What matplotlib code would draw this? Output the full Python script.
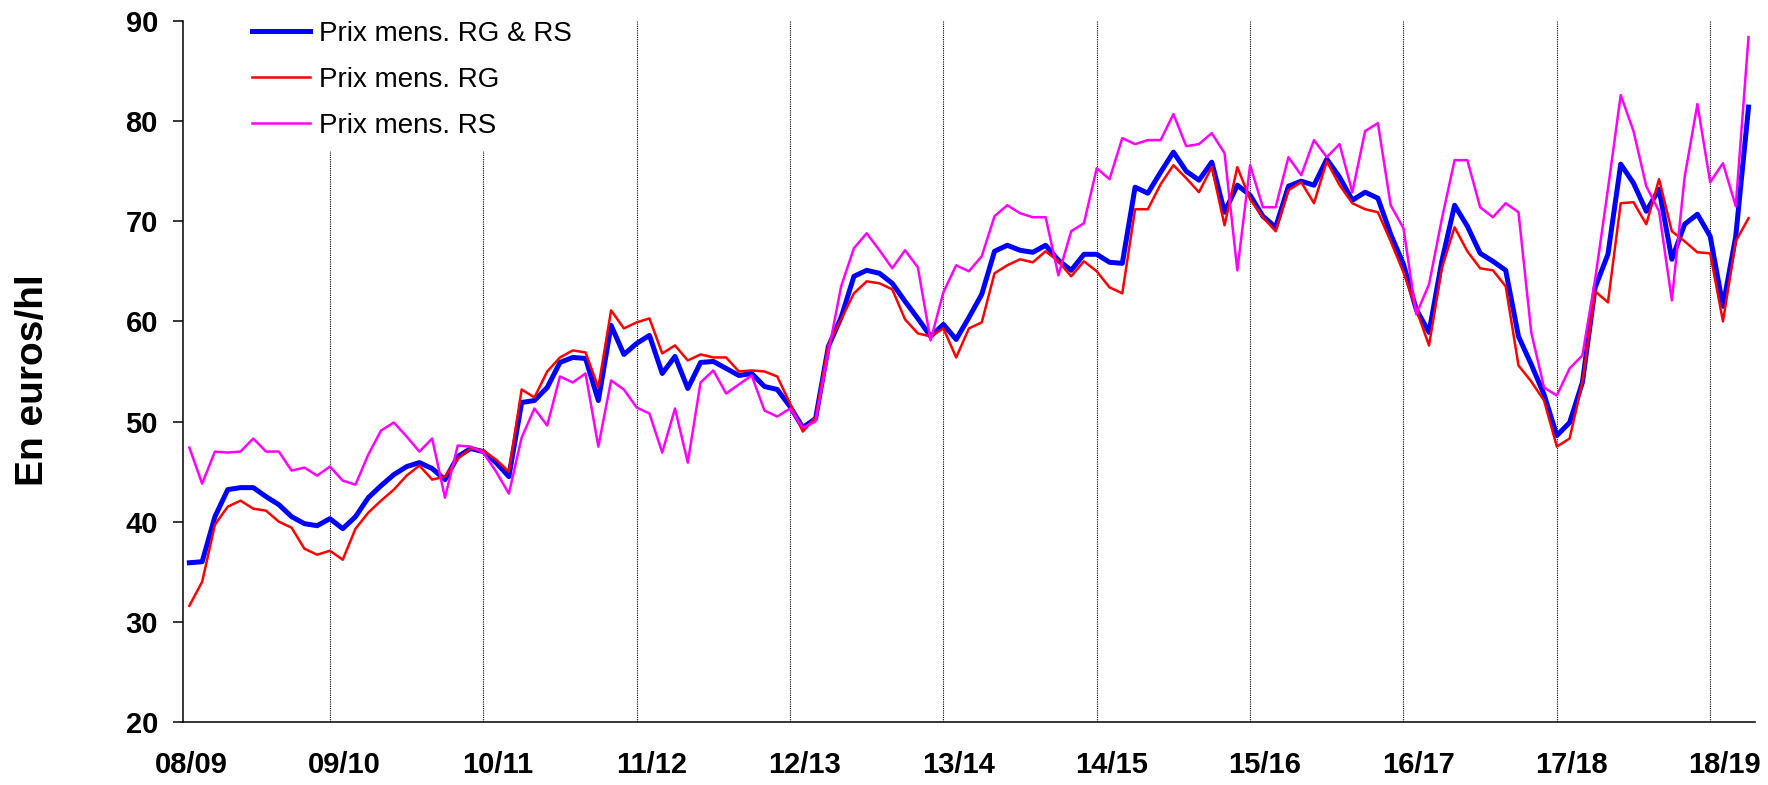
import numpy as np
import matplotlib
matplotlib.use("Agg")
from matplotlib import pyplot as plt

plt.rcParams['font.family'] = ['Liberation Sans', 'DejaVu Sans']

# monthly prices, euros/hl, one value per month from the start of 08/09
rg_rs = [35.9, 36.0, 40.5, 43.2, 43.4, 43.4, 42.5, 41.7, 40.5, 39.8, 39.6, 40.3,
         39.3, 40.5, 42.4, 43.6, 44.7, 45.5, 45.9, 45.3, 44.2, 46.5, 47.3, 47.0,
         45.9, 44.5, 51.9, 52.1, 53.4, 55.9, 56.4, 56.3, 52.1, 59.6, 56.7, 57.8,
         58.6, 54.8, 56.5, 53.3, 55.9, 56.0, 55.3, 54.6, 54.8, 53.5, 53.2, 51.5,
         49.4, 50.3, 57.5, 60.4, 64.5, 65.1, 64.8, 63.8, 62.0, 60.3, 58.5, 59.7,
         58.2, 60.4, 62.7, 67.0, 67.6, 67.1, 66.9, 67.6, 66.1, 65.1, 66.7, 66.7,
         65.9, 65.8, 73.4, 72.8, 74.9, 76.9, 75.0, 74.1, 75.9, 70.9, 73.6, 72.6,
         70.5, 69.4, 73.5, 74.0, 73.6, 76.2, 74.4, 72.1, 72.9, 72.3, 68.7, 65.7,
         61.2, 58.9, 66.0, 71.6, 69.5, 66.8, 66.0, 65.1, 58.5, 55.7, 52.7, 48.6,
         49.9, 53.9, 63.4, 66.7, 75.7, 73.8, 71.0, 73.2, 66.2, 69.7, 70.7, 68.5,
         61.5, 68.5, 81.4]

rg = [31.6, 34.0, 39.7, 41.5, 42.1, 41.3, 41.1, 40.0, 39.4, 37.3, 36.7, 37.1,
      36.2, 39.3, 40.9, 42.1, 43.2, 44.6, 45.6, 44.2, 44.5, 46.3, 47.3, 47.1,
      46.2, 45.0, 53.2, 52.4, 55.0, 56.4, 57.1, 56.9, 53.4, 61.1, 59.3, 59.9,
      60.3, 56.8, 57.6, 56.1, 56.7, 56.4, 56.4, 55.0, 55.1, 55.0, 54.5, 51.8,
      49.0, 50.4, 57.7, 60.2, 62.8, 64.0, 63.8, 63.2, 60.2, 58.8, 58.5, 59.3,
      56.4, 59.3, 59.9, 64.8, 65.6, 66.2, 65.9, 67.0, 66.0, 64.5, 66.0, 65.0,
      63.4, 62.8, 71.2, 71.2, 73.7, 75.6, 74.3, 72.9, 75.4, 69.6, 75.4, 72.2,
      70.4, 69.0, 73.1, 73.9, 71.8, 76.0, 73.6, 71.8, 71.2, 70.9, 68.0, 64.9,
      61.2, 57.6, 65.3, 69.4, 67.0, 65.3, 65.1, 63.5, 55.6, 54.0, 52.1, 47.5,
      48.3, 53.9, 63.0, 61.9, 71.8, 71.9, 69.7, 74.2, 69.0, 68.0, 66.9, 66.8,
      60.0, 68.0, 70.3]

rs = [47.4, 43.8, 47.0, 46.9, 47.0, 48.3, 47.0, 47.0, 45.1, 45.4, 44.6, 45.5,
      44.1, 43.7, 46.7, 49.1, 49.9, 48.5, 47.0, 48.3, 42.4, 47.6, 47.5, 46.9,
      45.0, 42.8, 48.4, 51.3, 49.6, 54.5, 53.9, 54.8, 47.5, 54.1, 53.2, 51.4,
      50.8, 46.9, 51.3, 45.9, 53.9, 55.1, 52.8, 53.7, 54.6, 51.1, 50.5, 51.3,
      49.4, 50.0, 56.9, 63.5, 67.3, 68.8, 67.1, 65.3, 67.1, 65.4, 58.1, 62.9,
      65.6, 65.0, 66.5, 70.5, 71.6, 70.8, 70.4, 70.4, 64.6, 69.0, 69.8, 75.3,
      74.2, 78.3, 77.7, 78.1, 78.1, 80.7, 77.5, 77.7, 78.8, 76.8, 65.1, 75.6,
      71.4, 71.4, 76.4, 74.6, 78.1, 76.4, 77.7, 72.9, 79.0, 79.8, 71.6, 69.3,
      60.7, 63.7, 70.2, 76.1, 76.1, 71.4, 70.4, 71.8, 70.9, 58.9, 53.4, 52.6,
      55.3, 56.6, 64.2, 73.2, 82.6, 79.0, 73.5, 71.0, 62.1, 74.4, 81.7, 73.9,
      75.8, 71.5, 88.4]

seasons = ["08/09", "09/10", "10/11", "11/12", "12/13", "13/14",
           "14/15", "15/16", "16/17", "17/18", "18/19"]

x = np.arange(len(rg_rs))

fig = plt.figure(figsize=(17.68, 7.85), dpi=100)
ax = fig.add_axes([0.1035, 0.0803, 0.8891, 0.8930])

# dotted separators between seasons
for k in range(1, len(seasons)):
    ax.axvline(12 * k - 1, color="black", lw=0.8, ls=(0, (1, 1)), zorder=1)

ax.plot(x, rg_rs, color="#0000FF", lw=3.6, label="Prix mens. RG & RS", zorder=3)
ax.plot(x, rg, color="#FF0000", lw=1.8, label="Prix mens. RG", zorder=4)
ax.plot(x, rs, color="#FF00FF", lw=1.8, label="Prix mens. RS", zorder=5)

ax.set_xlim(-0.5, len(rg_rs) - 0.5)
ax.set_ylim(20, 90)
ax.set_yticks(range(20, 91, 10))
ax.set_xticks([12 * k + 0.15 for k in range(len(seasons))])
ax.set_xticklabels(seasons)

for lbl in ax.get_xticklabels() + ax.get_yticklabels():
    lbl.set_fontweight("bold")
    lbl.set_fontsize(21)
ax.tick_params(axis="x", length=0, pad=21)
ax.tick_params(axis="y", length=7, width=1.1, pad=11)

for s in ["top", "right"]:
    ax.spines[s].set_visible(False)
for s in ["left", "bottom"]:
    ax.spines[s].set_linewidth(1.1)

ax.set_ylabel("En euros/hl", fontsize=28, fontweight="bold")
ax.yaxis.set_label_coords(-0.084, 0.488)

leg = ax.legend(loc="upper left", bbox_to_anchor=(0.0369, 1.0157), borderaxespad=0,
                fontsize=20, frameon=True, facecolor="white", edgecolor="white",
                framealpha=1, fancybox=False, borderpad=0.4, labelspacing=0.72,
                handlelength=2.1, handletextpad=0.32)
leg.set_zorder(10)

plt.savefig("out.png", dpi=100)
